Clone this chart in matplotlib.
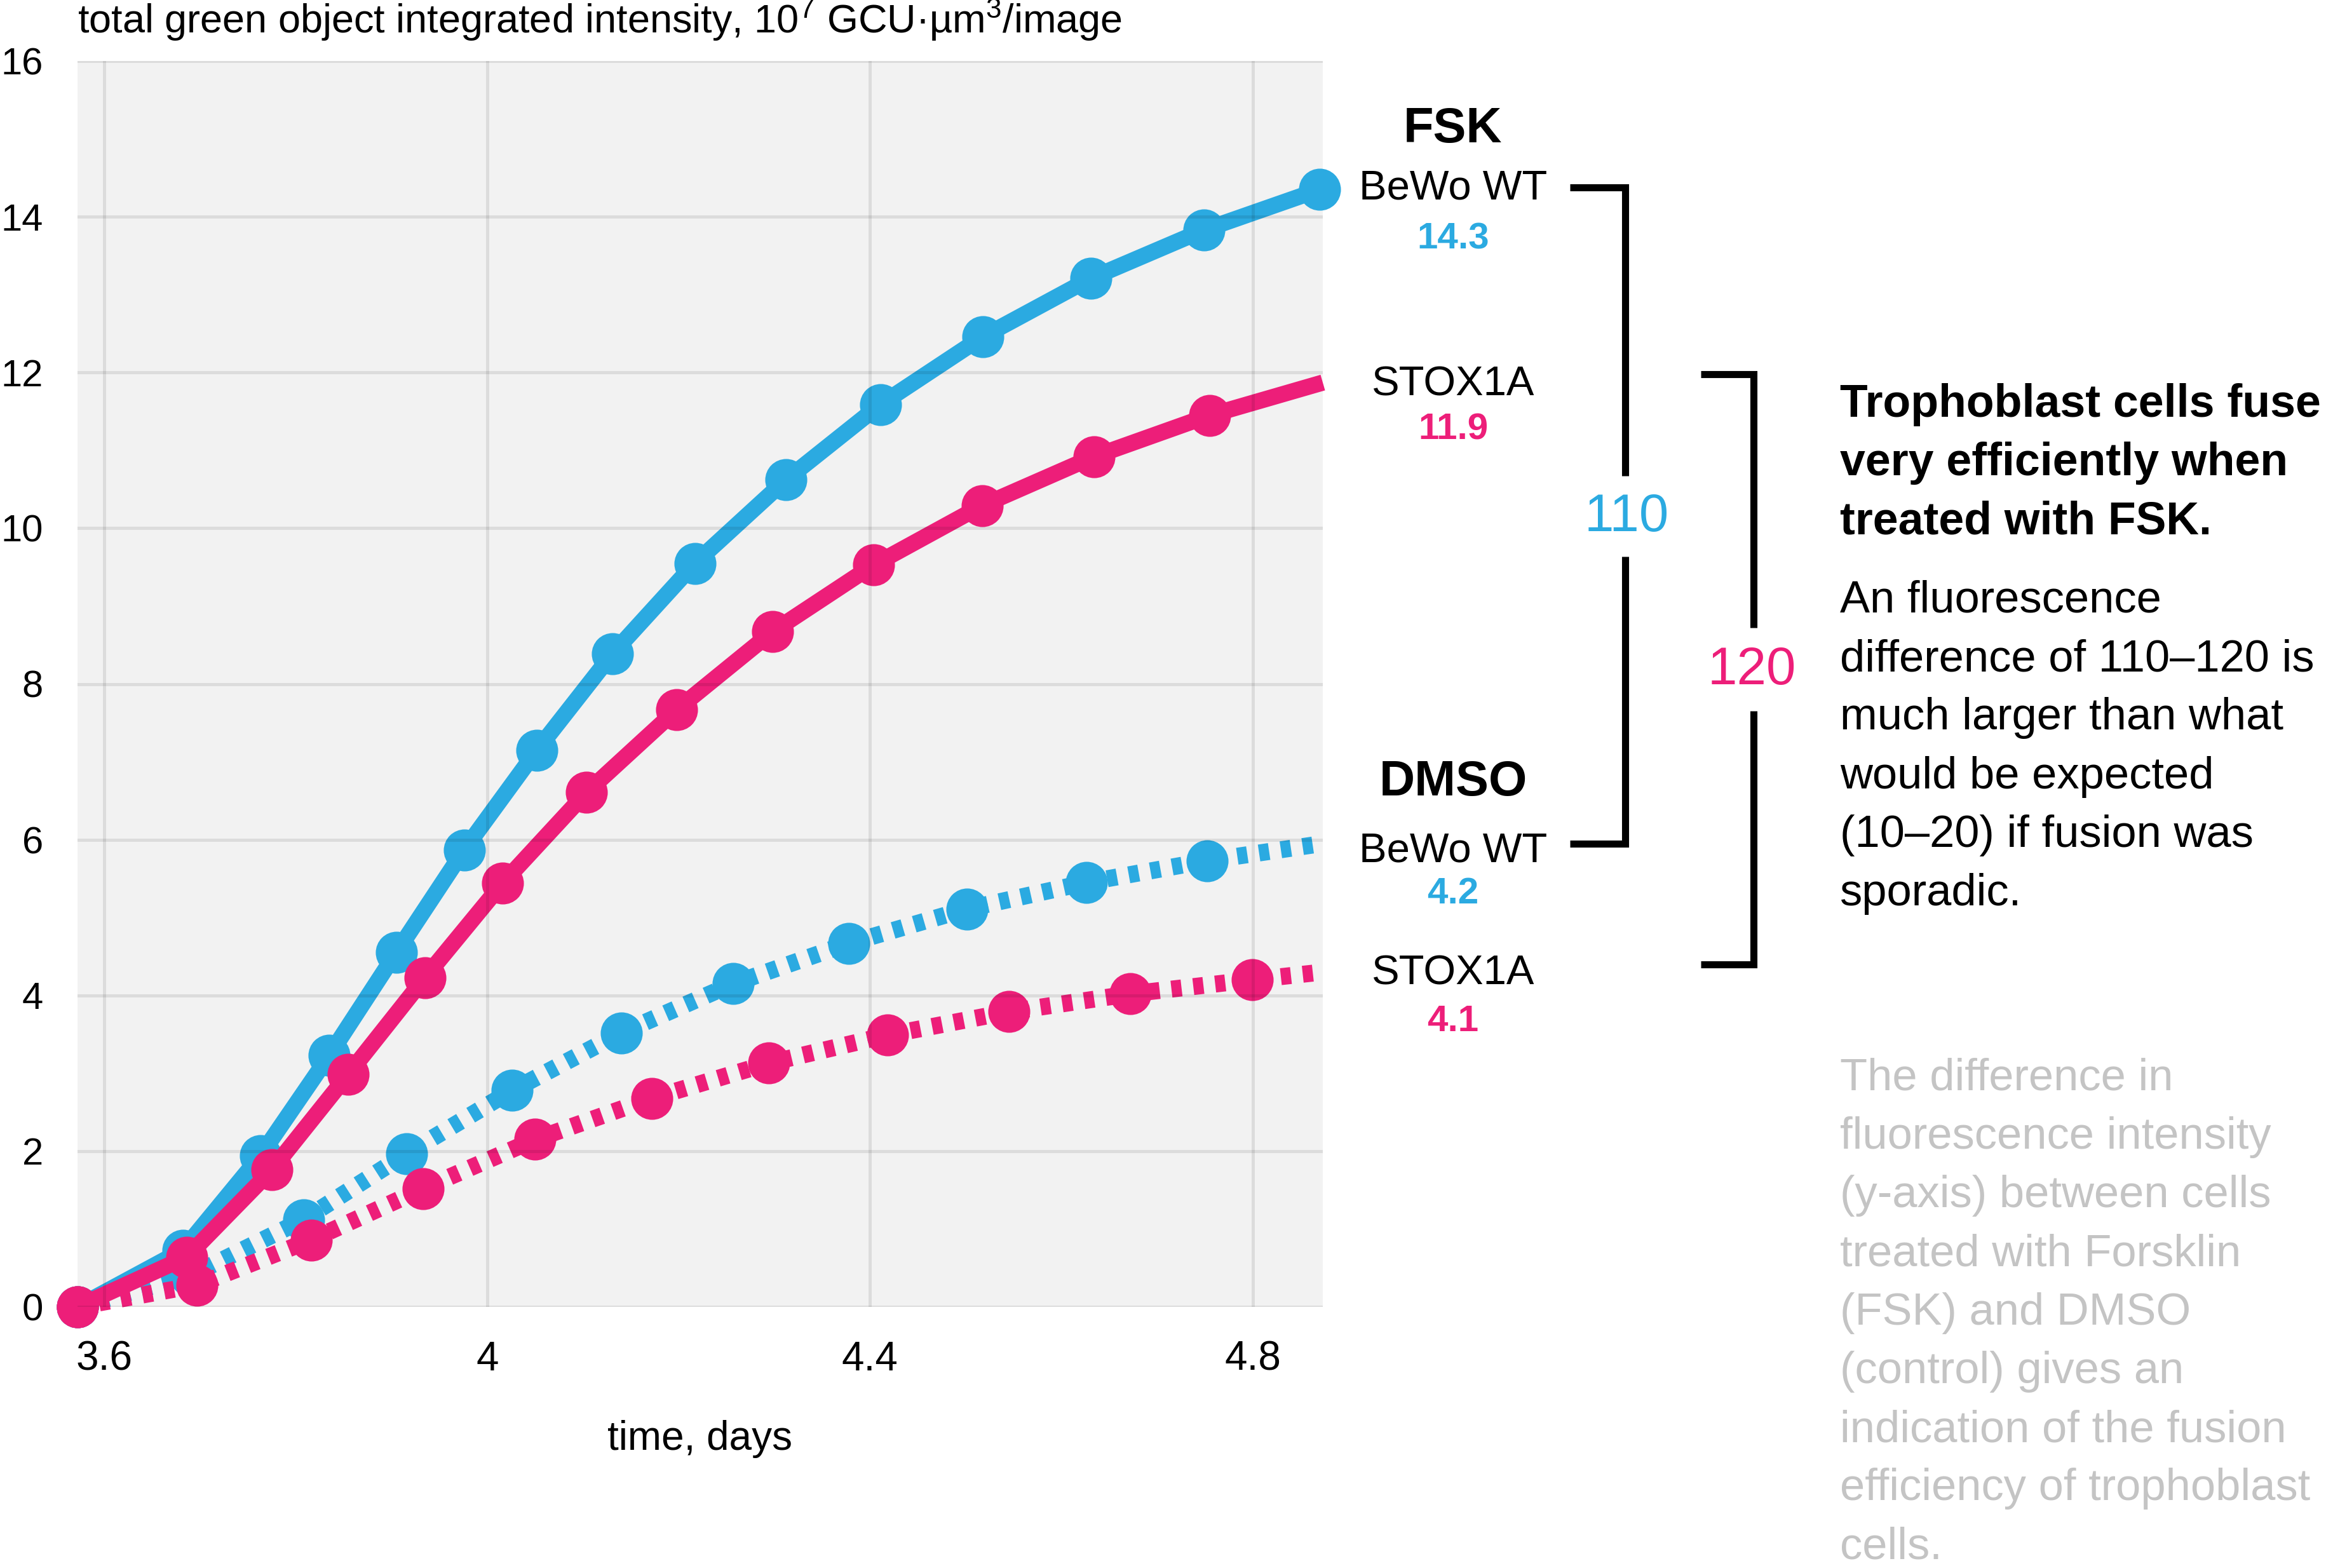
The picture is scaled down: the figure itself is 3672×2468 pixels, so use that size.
import matplotlib
matplotlib.use("Agg")
import matplotlib.pyplot as plt
from matplotlib.lines import Line2D

# time (days) and total green object integrated intensity (10^7 GCU·µm³/image)
fsk_bewo_t = [3.572, 3.682, 3.763, 3.835, 3.905, 3.976, 4.052, 4.131, 4.217, 4.312, 4.411, 4.518, 4.631, 4.749, 4.870]
fsk_bewo_v = [0.0, 0.73, 1.94, 3.23, 4.55, 5.87, 7.15, 8.39, 9.55, 10.62, 11.59, 12.46, 13.21, 13.83, 14.35]

fsk_stox_t = [3.572, 3.686, 3.775, 3.855, 3.935, 4.016, 4.104, 4.198, 4.298, 4.404, 4.517, 4.634, 4.755, 4.873]
fsk_stox_v = [0.0, 0.64, 1.76, 2.99, 4.23, 5.44, 6.61, 7.67, 8.67, 9.53, 10.29, 10.92, 11.45, 11.87]

dmso_bewo_t = [3.572, 3.690, 3.808, 3.916, 4.026, 4.140, 4.257, 4.378, 4.501, 4.626, 4.752, 4.873]
dmso_bewo_v = [0.0, 0.40, 1.12, 1.97, 2.78, 3.52, 4.15, 4.67, 5.11, 5.45, 5.73, 5.95]

dmso_stox_t = [3.572, 3.697, 3.816, 3.933, 4.050, 4.172, 4.294, 4.418, 4.545, 4.672, 4.799, 4.873]
dmso_stox_v = [0.0, 0.28, 0.86, 1.52, 2.15, 2.68, 3.13, 3.49, 3.79, 4.02, 4.20, 4.30]

x_ticks = [3.6, 4.0, 4.4, 4.8]
x_tick_labels = ["3.6", "4", "4.4", "4.8"]
y_ticks = [0, 2, 4, 6, 8, 10, 12, 14, 16]

groups = ["FSK", "DMSO"]
cell_lines = ["BeWo WT", "STOX1A"]
end_values = {"FSK": ["14.3", "11.9"], "DMSO": ["4.2", "4.1"]}
diffs = ["110", "120"]

BLUE = "#2BAAE1"
PINK = "#ED1E79"
GRAY_TXT = "#C4C4C4"

plt.rcParams["font.family"] = ["Liberation Sans", "DejaVu Sans"]
plt.rcParams["mathtext.fontset"] = "custom"
plt.rcParams["mathtext.rm"] = "Liberation Sans"

W, H = 3672, 2468
DPI = 200
fig = plt.figure(figsize=(W / DPI, H / DPI), dpi=DPI)
fig.patch.set_facecolor("white")

# plot area, placed in pixel terms of the reference
ax = fig.add_axes([122 / W, 1 - 2057 / H, (2082 - 122) / W, (2057 - 96) / H])
ax.set_facecolor("#F2F2F2")
for s in ax.spines.values():
    s.set_visible(False)

solid_lw = 9.2
dot_lw = 9.6
ms = 23.8

# DMSO (dotted) first, then FSK (solid)
ax.plot(dmso_bewo_t, dmso_bewo_v, color=BLUE, lw=dot_lw, linestyle=(0, (0.6, 0.7)),
        marker="o", ms=ms, mew=0, markevery=slice(0, -1), clip_on=False, zorder=2)
ax.plot(fsk_bewo_t, fsk_bewo_v, color=BLUE, lw=solid_lw, solid_capstyle="butt",
        marker="o", ms=ms, mew=0, clip_on=False, zorder=2)
ax.plot(dmso_stox_t, dmso_stox_v, color=PINK, lw=dot_lw, linestyle=(0, (0.6, 0.7)),
        marker="o", ms=ms, mew=0, markevery=slice(0, -1), clip_on=False, zorder=2)
ax.plot(fsk_stox_t, fsk_stox_v, color=PINK, lw=solid_lw, solid_capstyle="butt",
        marker="o", ms=ms, mew=0, markevery=slice(0, -1), clip_on=False, zorder=2)

ax.set_xlim(3.572, 4.873)
ax.set_ylim(0, 16)
ax.set_xticks(x_ticks)
ax.set_xticklabels(x_tick_labels)
ax.set_yticks(y_ticks)
ax.tick_params(axis="both", length=0)
ax.tick_params(axis="x", labelsize=23, pad=19)
ax.tick_params(axis="y", labelsize=21.5, pad=19.5)
ax.set_axisbelow(False)
ax.grid(True, color="black", alpha=0.09, lw=1.8)

ax.set_xlabel("time, days", fontsize=23, labelpad=23.5)
ax.set_title(r"total green object integrated intensity, 10$^{\mathregular{7}}$ GCU·µm$^{\mathregular{3}}$/image",
             loc="left", fontsize=22.7, pad=16)


def ftext(x, y, s, **kw):
    fig.text(x / W, 1 - y / H, s, **kw)


# end labels next to the curves
cx = 2287
ftext(cx, 224, groups[0], fontsize=28, fontweight="bold", ha="center", va="baseline")
ftext(cx, 314, cell_lines[0], fontsize=23.5, ha="center", va="baseline")
ftext(cx, 392, end_values["FSK"][0], fontsize=21, fontweight="bold", color=BLUE, ha="center", va="baseline")
ftext(cx, 622, cell_lines[1], fontsize=23.5, ha="center", va="baseline")
ftext(cx, 691, end_values["FSK"][1], fontsize=21, fontweight="bold", color=PINK, ha="center", va="baseline")
ftext(cx, 1252, groups[1], fontsize=28, fontweight="bold", ha="center", va="baseline")
ftext(cx, 1357, cell_lines[0], fontsize=23.5, ha="center", va="baseline")
ftext(cx, 1422, end_values["DMSO"][0], fontsize=21, fontweight="bold", color=BLUE, ha="center", va="baseline")
ftext(cx, 1550, cell_lines[1], fontsize=23.5, ha="center", va="baseline")
ftext(cx, 1623, end_values["DMSO"][1], fontsize=21, fontweight="bold", color=PINK, ha="center", va="baseline")


# brackets
def bracket(x0, x1, ytop, ybot, gap_top, gap_bot):
    kw = dict(color="black", lw=4.0, solid_joinstyle="miter", solid_capstyle="butt",
              transform=fig.transFigure)
    fig.add_artist(Line2D([x0 / W, x1 / W, x1 / W], [1 - ytop / H, 1 - ytop / H, 1 - gap_top / H], **kw))
    fig.add_artist(Line2D([x1 / W, x1 / W, x0 / W], [1 - gap_bot / H, 1 - ybot / H, 1 - ybot / H], **kw))


bracket(2471, 2558, 295, 1328, 749, 876)
bracket(2677, 2760, 589, 1518, 988, 1119)
ftext(2560, 836, diffs[0], fontsize=30, color=BLUE, ha="center", va="baseline")
ftext(2757, 1077, diffs[1], fontsize=30, color=PINK, ha="center", va="baseline")

# side notes
tx = 2896
bold_lines = ["Trophoblast cells fuse", "very efficiently when", "treated with FSK."]
for i, s in enumerate(bold_lines):
    ftext(tx, 656 + 92 * i, s, fontsize=25.8, fontweight="bold", ha="left", va="baseline")

body_lines = ["An fluorescence", "difference of 110\u2013120 is", "much larger than what",
              "would be expected", "(10\u201320) if fusion was", "sporadic."]
for i, s in enumerate(body_lines):
    ftext(tx, 964 + 92.2 * i, s, fontsize=25.4, ha="left", va="baseline")

gray_lines = ["The difference in", "fluorescence intensity", "(y-axis) between cells",
              "treated with Forsklin", "(FSK) and DMSO", "(control) gives an",
              "indication of the fusion", "efficiency of trophoblast", "cells."]
for i, s in enumerate(gray_lines):
    ftext(tx, 1716 + 92.2 * i, s, fontsize=25.4, color=GRAY_TXT, ha="left", va="baseline")

fig.savefig("out.png", dpi=DPI)
